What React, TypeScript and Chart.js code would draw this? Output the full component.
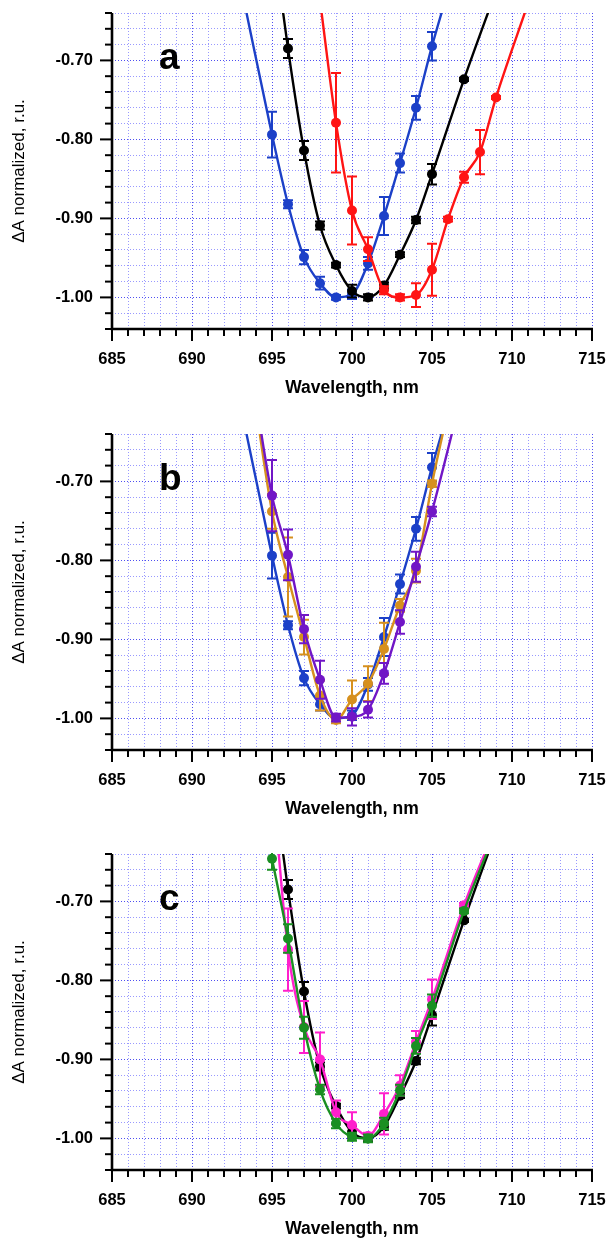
import React, { useEffect, useRef } from "react";
import { Chart, registerables } from "chart.js";
Chart.register(...registerables);

// ---------- axis ranges & tick labels ----------
const X_MIN = 685;
const X_MAX = 715;
const X_STEP = 1;
const X_LABEL_EVERY = 5;
const Y_MIN = -1.04;
const Y_MAX = -0.64;
const Y_STEP = 0.02;
const X_TITLE = "Wavelength, nm";
const Y_TITLE = "ΔA normalized, r.u.";

// ---------- panel a ----------
const A_BLUE_WL = [695, 696, 697, 698, 699, 700, 701, 702, 703, 704, 705];
const A_BLUE = [-0.794, -0.882, -0.949, -0.982, -1.0, -0.996, -0.957, -0.897, -0.83, -0.76, -0.682];
const A_BLUE_ERR = [0.029, 0.005, 0.009, 0.008, 0.003, 0.006, 0.008, 0.024, 0.012, 0.015, 0.018];
const A_BLUE_EXT_WL = [693, 706];
const A_BLUE_EXT = [-0.6, -0.612];

const A_BLACK_WL = [696, 697, 698, 699, 700, 701, 702, 703, 704, 705, 707];
const A_BLACK = [-0.685, -0.814, -0.909, -0.959, -0.992, -1.0, -0.985, -0.946, -0.902, -0.844, -0.724];
const A_BLACK_ERR = [0.012, 0.012, 0.005, 0.003, 0.008, 0.004, 0.004, 0.003, 0.004, 0.013, 0.002];
const A_BLACK_EXT_WL = [695, 709];
const A_BLACK_EXT = [-0.535, -0.612];

const A_RED_WL = [699, 700, 701, 702, 703, 704, 705, 706, 707, 708, 709];
const A_RED = [-0.779, -0.89, -0.939, -0.991, -1.0, -0.997, -0.965, -0.901, -0.848, -0.816, -0.747];
const A_RED_ERR = [0.063, 0.043, 0.015, 0.005, 0.004, 0.015, 0.033, 0.003, 0.007, 0.028, 0.002];
const A_RED_EXT_WL = [698, 711];
const A_RED_EXT = [-0.624, -0.628];

// ---------- panel b ----------
const B_WL = [695, 696, 697, 698, 699, 700, 701, 702, 703, 704, 705];
const B_ORANGE = [-0.738, -0.821, -0.897, -0.971, -1.002, -0.976, -0.956, -0.912, -0.857, -0.813, -0.703];
const B_ORANGE_ERR = [0.022, 0.05, 0.022, 0.019, 0.004, 0.024, 0.022, 0.033, 0.008, 0.015, 0.004];
const B_ORANGE_EXT_WL = [694, 706];
const B_ORANGE_EXT = [-0.608, -0.61];

const B_PURPLE = [-0.718, -0.793, -0.887, -0.951, -0.999, -0.998, -0.989, -0.943, -0.878, -0.808, -0.738];
const B_PURPLE_ERR = [0.045, 0.032, 0.018, 0.024, 0.005, 0.011, 0.01, 0.013, 0.015, 0.019, 0.006];
const B_PURPLE_EXT_WL = [694, 707];
const B_PURPLE_EXT = [-0.598, -0.578];

// ---------- panel c ----------
const C_MAGENTA_WL = [696, 697, 698, 699, 700, 701, 702, 703, 704, 705, 707];
const C_MAGENTA = [-0.761, -0.859, -0.9, -0.967, -0.983, -0.997, -0.969, -0.933, -0.878, -0.824, -0.705];
const C_MAGENTA_ERR = [0.052, 0.033, 0.034, 0.015, 0.016, 0.004, 0.026, 0.013, 0.014, 0.025, 0.003];
const C_MAGENTA_EXT_WL = [695, 709];
const C_MAGENTA_EXT = [-0.541, -0.605];

const C_GREEN_WL = [695, 696, 697, 698, 699, 700, 701, 702, 703, 704, 705, 707];
const C_GREEN = [-0.646, -0.747, -0.86, -0.938, -0.981, -0.998, -1.0, -0.981, -0.939, -0.883, -0.832, -0.712];
const C_GREEN_ERR = [0.014, 0.018, 0.014, 0.006, 0.006, 0.005, 0.005, 0.007, 0.007, 0.01, 0.014, 0.003];
const C_GREEN_EXT_WL = [694, 709];
const C_GREEN_EXT = [-0.546, -0.61];

// ---------- colours ----------
const BLUE = "#1c40c8";
const BLACK = "#000000";
const RED = "#ff1414";
const ORANGE = "#d6901e";
const PURPLE = "#7116c6";
const MAGENTA = "#ff1fcc";
const GREEN = "#1a8f22";

type Series = {
  color: string;
  wl: number[];
  val: number[];
  err: number[];
  extWl: number[];
  ext: number[];
};

type Pt = { x: number; y: number; e: number; hidden: boolean };

function buildPoints(s: Series): Pt[] {
  const pts: Pt[] = s.wl.map((w, i) => ({ x: w, y: s.val[i], e: s.err[i], hidden: false }));
  s.extWl.forEach((w, i) => pts.push({ x: w, y: s.ext[i], e: 0, hidden: true }));
  pts.sort((a, b) => a.x - b.x);
  return pts;
}

const FONT = "'Liberation Sans', Arial, Helvetica, sans-serif";
const PANEL_H = 420;
const PLOT_TOP = 13;
const PLOT_LEFT = 112;
const PLOT_RIGHT_PAD = 16;
const PLOT_H = 316;

const isMajorX = (v: number) => Math.abs(v % X_LABEL_EVERY) < 1e-6;
const isMajorY = (v: number) => Math.abs(Math.round(v * 100) % 10) === 0;

const errorBars = {
  id: "errorBars",
  beforeDatasetDraw(chart: any, args: any) {
    const ds = chart.data.datasets[args.index];
    const { ctx, chartArea } = chart;
    const x = chart.scales.x;
    const y = chart.scales.y;
    ctx.save();
    ctx.beginPath();
    ctx.rect(chartArea.left, chartArea.top - 1, chartArea.right - chartArea.left, chartArea.bottom - chartArea.top + 1);
    ctx.clip();
    ctx.strokeStyle = ds.borderColor;
    ctx.lineWidth = 2;
    (ds.data as Pt[]).forEach((p) => {
      if (p.hidden || !p.e) return;
      const px = x.getPixelForValue(p.x);
      const y1 = y.getPixelForValue(p.y + p.e);
      const y2 = y.getPixelForValue(p.y - p.e);
      ctx.beginPath();
      ctx.moveTo(px, y1);
      ctx.lineTo(px, y2);
      ctx.moveTo(px - 5, y1);
      ctx.lineTo(px + 5, y1);
      ctx.moveTo(px - 5, y2);
      ctx.lineTo(px + 5, y2);
      ctx.stroke();
    });
    ctx.restore();
  },
};

function makeDecor(letter: string) {
  return {
    id: "decor",
    afterDraw(chart: any) {
      const { ctx, chartArea } = chart;
      const x = chart.scales.x;
      const y = chart.scales.y;
      ctx.save();
      ctx.strokeStyle = "#000";
      ctx.lineCap = "butt";
      // tick marks
      ctx.lineWidth = 2;
      x.ticks.forEach((t: any) => {
        const px = x.getPixelForValue(t.value);
        const len = isMajorX(t.value) ? 12 : 7;
        ctx.beginPath();
        ctx.moveTo(px, chartArea.bottom);
        ctx.lineTo(px, chartArea.bottom + len);
        ctx.stroke();
      });
      y.ticks.forEach((t: any) => {
        const py = y.getPixelForValue(t.value);
        const len = isMajorY(t.value) ? 12 : 7;
        ctx.beginPath();
        ctx.moveTo(chartArea.left, py);
        ctx.lineTo(chartArea.left - len, py);
        ctx.stroke();
      });
      // axis lines
      ctx.lineWidth = 2.6;
      ctx.beginPath();
      ctx.moveTo(chartArea.left, chartArea.top);
      ctx.lineTo(chartArea.left, chartArea.bottom);
      ctx.lineTo(chartArea.right + 1, chartArea.bottom);
      ctx.stroke();
      // panel letter
      ctx.fillStyle = "#000";
      ctx.font = `bold 37px ${FONT}`;
      ctx.textAlign = "left";
      ctx.textBaseline = "alphabetic";
      ctx.fillText(letter, chartArea.left + 47, chartArea.top + 56);
      // x title
      ctx.font = `bold 17.5px ${FONT}`;
      ctx.textAlign = "center";
      ctx.textBaseline = "middle";
      ctx.fillText(X_TITLE, (chartArea.left + chartArea.right) / 2, chartArea.bottom + 59);
      // y title
      ctx.font = `17px ${FONT}`;
      ctx.translate(19, (chartArea.top + chartArea.bottom) / 2);
      ctx.rotate(-Math.PI / 2);
      ctx.fillText(Y_TITLE, 0, 0);
      ctx.restore();
    },
  };
}

function Panel({ letter, series, top }: { letter: string; series: Series[]; top: number }) {
  const ref = useRef<HTMLCanvasElement>(null);
  useEffect(() => {
    if (!ref.current) return;
    const n = series.length;
    const chart = new Chart(ref.current, {
      type: "line",
      data: {
        datasets: series.map((s, i) => ({
          data: buildPoints(s) as any,
          borderColor: s.color,
          backgroundColor: s.color,
          pointBackgroundColor: s.color,
          pointBorderColor: s.color,
          borderWidth: 2.4,
          pointBorderWidth: 0,
          pointRadius: (ctx: any) => (ctx.raw && ctx.raw.hidden ? 0 : 5),
          pointHoverRadius: 0,
          cubicInterpolationMode: "monotone" as const,
          fill: false,
          order: n - i,
        })),
      },
      options: {
        animation: false,
        responsive: false,
        maintainAspectRatio: false,
        events: [],
        layout: { padding: { top: PLOT_TOP, right: PLOT_RIGHT_PAD, left: 0, bottom: 0 } },
        plugins: { legend: { display: false }, tooltip: { enabled: false } },
        scales: {
          x: {
            type: "linear",
            min: X_MIN,
            max: X_MAX,
            afterFit: (s: any) => {
              s.height = PANEL_H - PLOT_TOP - PLOT_H;
              s.paddingLeft = 0;
              s.paddingRight = 0;
              s.paddingTop = 0;
              s.paddingBottom = 0;
            },
            ticks: {
              stepSize: X_STEP,
              autoSkip: false,
              maxRotation: 0,
              minRotation: 0,
              padding: 21,
              color: "#000",
              font: { family: FONT, size: 16.5, weight: "bold" },
              callback: (v: any) => (isMajorX(Number(v)) ? String(Math.round(Number(v))) : ""),
            },
            grid: {
              drawTicks: false,
              lineWidth: 1,
              color: (c: any) =>
                c.tick && isMajorX(c.tick.value) ? "rgba(60,60,240,0.9)" : "rgba(110,110,255,0.7)",
            },
            border: { display: false, dash: [1, 2] },
          },
          y: {
            type: "linear",
            min: Y_MIN,
            max: Y_MAX,
            afterFit: (s: any) => {
              s.width = PLOT_LEFT;
              s.paddingLeft = 0;
              s.paddingRight = 0;
              s.paddingTop = 0;
              s.paddingBottom = 0;
            },
            ticks: {
              stepSize: Y_STEP,
              autoSkip: false,
              padding: 19,
              color: "#000",
              font: { family: FONT, size: 16.5, weight: "bold" },
              callback: (v: any) => (isMajorY(Number(v)) ? Number(v).toFixed(2) : ""),
            },
            grid: {
              drawTicks: false,
              lineWidth: 1,
              color: (c: any) =>
                c.tick && isMajorY(c.tick.value) ? "rgba(60,60,240,0.9)" : "rgba(110,110,255,0.7)",
            },
            border: { display: false, dash: [1, 2] },
          },
        },
      } as any,
      plugins: [errorBars, makeDecor(letter)],
    });
    return () => chart.destroy();
  }, [letter, series]);
  return (
    <canvas
      ref={ref}
      width={608}
      height={PANEL_H}
      style={{ position: "absolute", left: 0, top, width: 608, height: PANEL_H, display: "block" }}
    />
  );
}

const PANEL_A: Series[] = [
  { color: BLUE, wl: A_BLUE_WL, val: A_BLUE, err: A_BLUE_ERR, extWl: A_BLUE_EXT_WL, ext: A_BLUE_EXT },
  { color: BLACK, wl: A_BLACK_WL, val: A_BLACK, err: A_BLACK_ERR, extWl: A_BLACK_EXT_WL, ext: A_BLACK_EXT },
  { color: RED, wl: A_RED_WL, val: A_RED, err: A_RED_ERR, extWl: A_RED_EXT_WL, ext: A_RED_EXT },
];
const PANEL_B: Series[] = [
  { color: BLUE, wl: A_BLUE_WL, val: A_BLUE, err: A_BLUE_ERR, extWl: A_BLUE_EXT_WL, ext: A_BLUE_EXT },
  { color: ORANGE, wl: B_WL, val: B_ORANGE, err: B_ORANGE_ERR, extWl: B_ORANGE_EXT_WL, ext: B_ORANGE_EXT },
  { color: PURPLE, wl: B_WL, val: B_PURPLE, err: B_PURPLE_ERR, extWl: B_PURPLE_EXT_WL, ext: B_PURPLE_EXT },
];
const PANEL_C: Series[] = [
  { color: BLACK, wl: A_BLACK_WL, val: A_BLACK, err: A_BLACK_ERR, extWl: A_BLACK_EXT_WL, ext: A_BLACK_EXT },
  { color: MAGENTA, wl: C_MAGENTA_WL, val: C_MAGENTA, err: C_MAGENTA_ERR, extWl: C_MAGENTA_EXT_WL, ext: C_MAGENTA_EXT },
  { color: GREEN, wl: C_GREEN_WL, val: C_GREEN, err: C_GREEN_ERR, extWl: C_GREEN_EXT_WL, ext: C_GREEN_EXT },
];

export default function App() {
  return (
    <div style={{ position: "absolute", left: 0, top: 0, width: 608, height: 1239, background: "#fff", overflow: "hidden" }}>
      <Panel letter="a" series={PANEL_A} top={0} />
      <Panel letter="b" series={PANEL_B} top={421} />
      <Panel letter="c" series={PANEL_C} top={841} />
    </div>
  );
}
